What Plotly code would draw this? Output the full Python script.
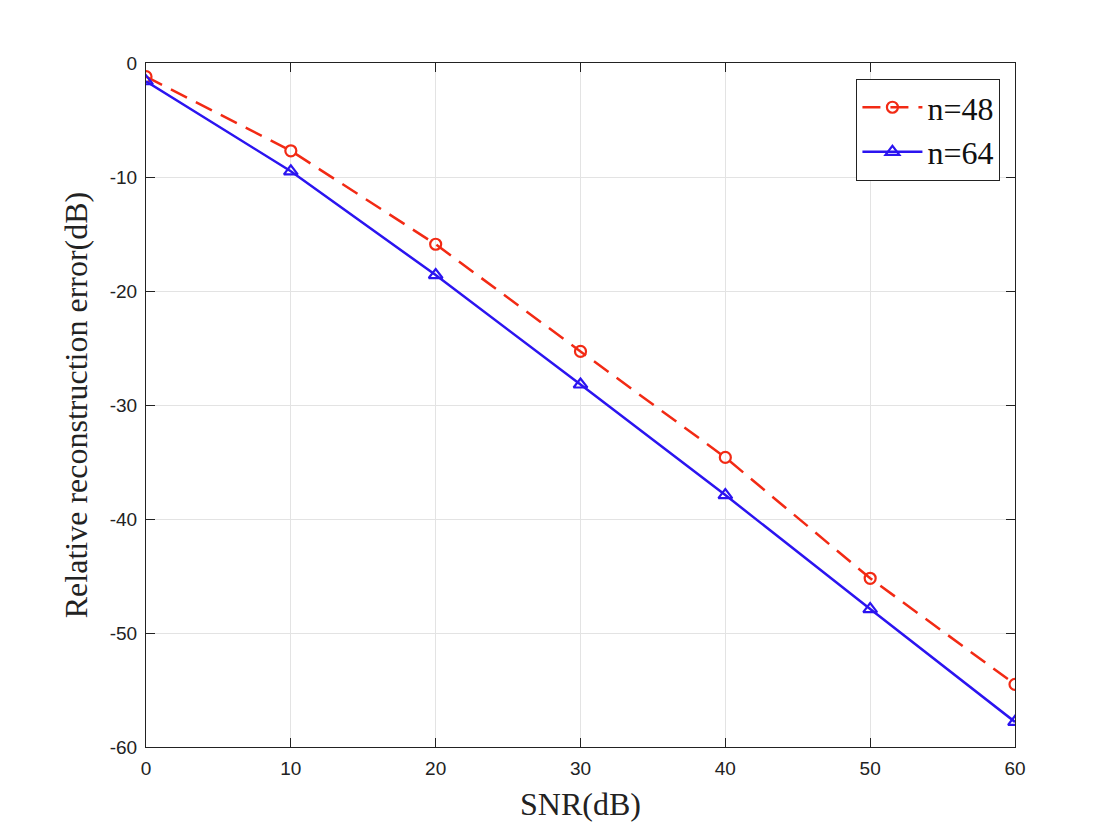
import plotly.graph_objects as go

snr = [0, 10, 20, 30, 40, 50, 60]
err_n48 = [-1.2, -7.7, -15.9, -25.3, -34.6, -45.2, -54.5]
err_n64 = [-1.6, -9.5, -18.6, -28.2, -37.9, -47.9, -57.8]
x_ticks = [0, 10, 20, 30, 40, 50, 60]
y_ticks = [0, -10, -20, -30, -40, -50, -60]

rojo = "#F22A14"
azul = "#2B14F0"

fig = go.Figure()
fig.add_trace(go.Scatter(
    x=snr, y=err_n48, mode="lines+markers", name="n=48",
    line=dict(color=rojo, width=2.5, dash="18px,10px"),
    marker=dict(symbol="circle-open", size=11, color=rojo, line=dict(width=2.2)),
))
fig.add_trace(go.Scatter(
    x=snr, y=err_n64, mode="lines+markers", name="n=64",
    line=dict(color=azul, width=2.5),
    marker=dict(symbol="triangle-up-open", size=12, color=azul, line=dict(width=2.2)),
))

ejes = dict(
    showgrid=True, gridcolor="#E3E3E3", gridwidth=1,
    showline=True, linecolor="#222222", linewidth=1.2, mirror="ticks",
    ticks="inside", ticklen=9, tickcolor="#222222",
    zeroline=False, ticklabelstandoff=4,
    tickfont=dict(family="Liberation Sans, Arial", size=19, color="#222222"),
)

fig.update_xaxes(
    range=[0, 60], tickvals=x_ticks, ticktext=[str(v) for v in x_ticks],
    title=dict(text="SNR(dB)", font=dict(family="Liberation Serif, Times New Roman", size=32, color="#222222"), standoff=14),
    **ejes,
)
fig.update_yaxes(
    range=[-60, 0], tickvals=y_ticks, ticktext=[str(v) for v in y_ticks],
    title=dict(text="Relative reconstruction error(dB)", font=dict(family="Liberation Serif, Times New Roman", size=32, color="#222222"), standoff=12),
    **ejes,
)

fig.update_layout(
    width=1120, height=840,
    margin=dict(l=138, r=113, t=55, b=101),
    paper_bgcolor="white", plot_bgcolor="white",
    legend=dict(
        x=0.983, y=0.977, xanchor="right", yanchor="top",
        bgcolor="white", bordercolor="#222222", borderwidth=1.2,
        font=dict(family="Liberation Serif, Times New Roman", size=32, color="#111111"),
        tracegroupgap=0, itemwidth=60,
    ),
    showlegend=True,
)

fig.write_html("out.html")
